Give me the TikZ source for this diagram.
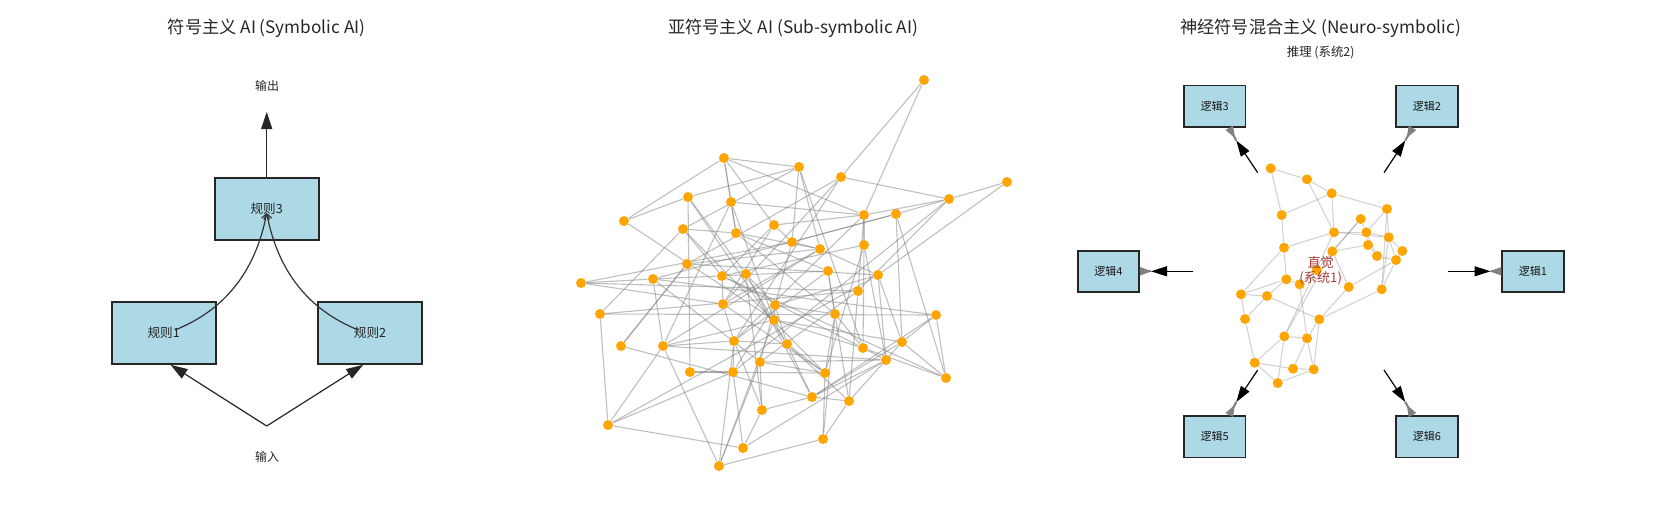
\documentclass[tikz,border=0pt]{standalone}
\usepackage{fontspec}
\setmainfont{Noto Sans CJK SC}
\usetikzlibrary{arrows.meta}
\pgfdeclarelayer{bg}
\pgfsetlayers{bg,main}
\definecolor{lblue}{HTML}{ADD8E6}
\definecolor{dorange}{HTML}{FFA500}
\definecolor{txtred}{HTML}{A02828}
\begin{document}
\begin{tikzpicture}[x=0.5pt,y=-0.5pt,
  title/.style={font=\fontsize{8.6}{10}\selectfont, text=black!85},
  small/.style={font=\fontsize{6}{7}\selectfont, text=black!85},
  rulebox/.style={draw=black!85, line width=1pt, fill=lblue, minimum width=52pt, minimum height=31pt, inner sep=0, font=\fontsize{6.3}{7}\selectfont, text=black!85},
  logicbox/.style={draw=black!85, line width=0.9pt, fill=lblue, minimum width=30.7pt, minimum height=20.7pt, inner sep=0, font=\fontsize{5.5}{6}\selectfont, text=black!90},
  dot/.style={circle, fill=dorange, inner sep=0, minimum size=5pt},
  edgem/.style={draw=gray, opacity=0.5, line width=0.55pt},
  edger/.style={draw=gray, opacity=0.35, line width=0.55pt},
  arr/.style={draw=black!85, line width=0.6pt, -{Triangle[length=8.5pt,width=5.5pt]}},
  curvearr/.style={draw=black!80, line width=0.6pt, -{Straight Barb[length=2.5pt,width=4pt]}},
  blk/.style={draw=black, line width=0.6pt, -{Triangle[length=8pt,width=5pt]}},
  gry/.style={draw=gray, line width=1pt, -{Triangle[reversed,length=6pt,width=4pt]}}
]
\useasboundingbox (0,0) rectangle (1656,526);

% ---------------- titles ----------------
\node[title] (t1) at (266.7,28) {符号主义 AI (Symbolic AI)};
\node[title] (t2) at (793,28) {亚符号主义 AI (Sub-symbolic AI)};
\node[title] (t3) at (1320.7,28) {神经符号混合主义 (Neuro-symbolic)};
\node[small, font=\fontsize{6.2}{7}\selectfont] (t3b) at (1320.7,52.5) {推理 (系统2)};

% ---------------- left panel ----------------
\node[rulebox] (r3) at (266.7,209) {规则3};
\node[rulebox] (r1) at (163.7,332.8) {规则1};
\node[rulebox] (r2) at (370,332.8) {规则2};
\node[small] (out) at (267,85.5) {输出};
\node[small] (inp) at (267,456.5) {输入};
\coordinate (outtip) at (266.7,112);
\coordinate (inpt) at (266.7,426);
\draw[arr] (r3.north) -- (outtip);
\draw[arr] (inpt) -- (r1.-78);
\draw[arr] (inpt) -- (r2.-102);
\coordinate (c1s) at (175,330);
\coordinate (c2s) at (358.4,330);
\coordinate (c3e) at (266.7,213);
\draw[curvearr] (c1s) .. controls (225,310) and (255.6,271) .. (c3e);
\draw[curvearr] (c2s) .. controls (308.4,310) and (277.8,271) .. (c3e);

% ---------------- middle panel ----------------
\foreach \i/\x/\y in {
 1/924/80, 2/724/158, 3/799/167, 4/841/177, 5/1007/182, 6/688/197, 7/731/202,
 8/949/199, 9/624/221, 10/864/215, 11/896/214, 12/683/229, 13/774/225, 14/736/233,
 15/792/242, 16/820/249, 17/864/245, 18/687/264, 19/828/271, 20/581/283, 21/653/279,
 22/722/276, 23/746/274, 24/878/275, 25/858/291, 26/600/314, 27/723/304, 28/775/305,
 29/774/320, 30/835/314, 31/936/315, 32/621/346, 33/663/346, 34/734/341, 35/787/344,
 36/863/348, 37/902/342, 38/760/362, 39/886/360, 40/690/372, 41/733/372, 42/825/373,
 43/946/378, 44/812/397, 45/849/401, 46/762/410, 47/608/425, 48/823/439, 49/743/448,
 50/719/466}
 {\node[dot] (m\i) at (\x,\y) {};}
\begin{pgfonlayer}{bg}
\foreach \a/\b in {
 1/4, 1/10, 2/3, 2/9, 2/7, 2/13, 2/14, 2/10,
 3/6, 3/12, 3/15, 3/16, 3/36,
 4/8, 4/18, 4/27, 4/34, 5/8, 5/24,
 6/9, 6/40, 6/23, 6/35, 7/10, 7/33, 7/29, 7/14,
 8/10, 8/11, 8/25, 8/41, 9/29,
 10/17, 10/25, 10/34, 10/13, 11/37, 11/15, 11/21, 11/43,
 12/14, 12/26, 12/42, 12/22, 13/15, 13/27, 13/22,
 14/16, 14/19, 14/30, 15/16, 15/20, 15/38,
 16/18, 16/27, 16/33, 16/24, 17/39, 17/36, 17/42, 17/22,
 18/24, 18/32, 19/30, 19/21, 19/45, 19/34,
 20/21, 20/25, 20/27, 21/33, 21/31, 21/38,
 22/27, 22/43, 22/36, 23/28, 23/46, 23/35, 23/44,
 24/37, 24/39, 24/47, 24/28, 25/38, 25/45, 25/26,
 26/31, 26/47, 27/34, 27/42, 28/29, 28/30, 28/41, 28/35,
 29/37, 29/33, 29/50, 30/42, 30/36, 30/48,
 31/37, 31/43, 31/44, 32/44, 32/18,
 33/47, 33/50, 33/34, 33/39, 34/41, 34/46, 34/50, 34/35,
 35/44, 35/42, 35/45, 36/43, 36/39, 36/29,
 37/43, 37/44, 37/45, 38/46, 38/42, 38/50, 38/39,
 39/44, 39/49, 40/42, 40/41, 41/49, 41/47, 42/48,
 44/46, 44/45, 45/48, 46/49, 47/49, 48/50}
 {\draw[edgem] (m\a) -- (m\b);}
\end{pgfonlayer}

% ---------------- right panel ----------------
\foreach \i/\x/\y in {
 a/1270.7/168.3, b/1307/179.3, c/1331.7/193.3, d/1387/209, e/1281.7/215,
 f/1360.7/219, g/1334/232.3, h/1366.3/232.3, i/1388.7/237.3, j/1284/247.7,
 k/1368/245, l/1332.3/251.3, m/1402.3/251, n/1377/256, o/1396/260,
 p/1316.7/270, q/1286.3/279.3, r/1299.7/284.3, s/1348.7/287, t/1381.7/289.3,
 u/1241/294.3, v/1267/296, w/1245/319, x/1319.3/319.3, y/1284.3/336.3,
 z/1307/338.3, A/1254.7/362.7, B/1293/368.7, C/1313.7/369.3, D/1277.7/383}
 {\node[dot] (k\i) at (\x,\y) {};}
\begin{pgfonlayer}{bg}
\foreach \a/\b in {
 a/b, a/e, b/c, b/g, c/d, c/e, c/g, d/i, d/h, d/t, e/j, f/h, f/l, f/p,
 g/j, g/i, g/h, g/y, h/i, h/n, h/k, i/m, i/o, i/t, k/l, k/n, l/s, m/o,
 n/o, o/s, o/t, s/x, t/x, j/q, j/u, q/u, q/v, q/r, r/z, r/p, u/v, u/w,
 v/w, w/A, v/x, x/z, x/C, y/z, y/A, y/D, z/B, z/C, A/B, A/D, B/C, C/D, y/l}
 {\draw[edger] (k\a) -- (k\b);}
\end{pgfonlayer}
\node[font=\fontsize{6.6}{7.6}\selectfont, text=txtred, align=center, text opacity=0.9] (intu) at (1320.7,271) {直觉\\(系统1)};

\node[logicbox] (L1) at (1533,271.3) {逻辑1};
\node[logicbox] (L2) at (1427,106.2) {逻辑2};
\node[logicbox] (L3) at (1214.7,106.2) {逻辑3};
\node[logicbox] (L4) at (1108.3,271.3) {逻辑4};
\node[logicbox] (L5) at (1214.7,436.7) {逻辑5};
\node[logicbox] (L6) at (1427,436.7) {逻辑6};

\coordinate (s1) at (1447.7,271.3); \coordinate (e1) at (1490.5,271.3);
\coordinate (s2) at (1384,172.7);   \coordinate (e2) at (1405.3,140.5);
\coordinate (s3) at (1257.7,172.7); \coordinate (e3) at (1236.3,140.5);
\coordinate (s4) at (1193.3,271.3); \coordinate (e4) at (1151,271.3);
\coordinate (s5) at (1257.7,370);   \coordinate (e5) at (1236.3,402);
\coordinate (s6) at (1384,370);     \coordinate (e6) at (1405.3,402);
\draw[gry] (e1) -- (L1.west);
\draw[gry] (e2) -- (L2.-124);
\draw[gry] (e3) -- (L3.-56);
\draw[gry] (e4) -- (L4.east);
\draw[gry] (e5) -- (L5.56);
\draw[gry] (e6) -- (L6.124);
\draw[blk] (s1) -- (e1);
\draw[blk] (s2) -- (e2);
\draw[blk] (s3) -- (e3);
\draw[blk] (s4) -- (e4);
\draw[blk] (s5) -- (e5);
\draw[blk] (s6) -- (e6);
\end{tikzpicture}
\end{document}
